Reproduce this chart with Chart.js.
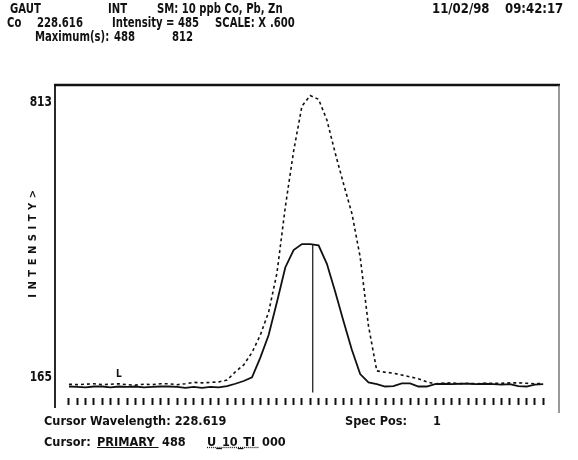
<!DOCTYPE html>
<html>
<head>
<meta charset="utf-8">
<script src="https://cdn.jsdelivr.net/npm/chart.js@4.4.1/dist/chart.umd.min.js"></script>
<style>
  html, body { margin: 0; padding: 0; background: #fff; }
  #wrap { position: relative; width: 578px; height: 460px; overflow: hidden; background: #fff; }
  #wrap canvas { position: absolute; left: 0; top: 0; }
  .t {
    position: absolute;
    font-family: 'DejaVu Sans Condensed', 'Liberation Sans Narrow', sans-serif;
    font-weight: bold;
    font-size: 14px;
    line-height: 14px;
    white-space: pre;
    color: #111;
    transform: scaleX(0.8);
    transform-origin: 0 0;
  }
  .w { transform: scaleX(0.93); }
  .b { font-size: 13px; transform: scaleX(0.97); }
  .u { text-decoration: underline; }
  .ud { text-decoration: underline dotted; }
</style>
</head>
<body>
<div id="wrap">
  <canvas id="spectrum" width="578" height="460"></canvas>

  <span class="t" style="left:10px; top:1px">GAUT</span>
  <span class="t" style="left:108px; top:1px">INT</span>
  <span class="t" style="left:157px; top:1px">SM: 10 ppb Co, Pb, Zn</span>
  <span class="t w" style="left:432px; top:1px">11/02/98</span>
  <span class="t w" style="left:505px; top:1px">09:42:17</span>

  <span class="t" style="left:7px; top:15px">Co</span>
  <span class="t" style="left:37px; top:15px">228.616</span>
  <span class="t" style="left:112px; top:15px">Intensity = 485</span>
  <span class="t" style="left:215px; top:15px">SCALE: X</span>
  <span class="t" style="left:270px; top:15px">.600</span>

  <span class="t" style="left:35px; top:29px">Maximum(s):</span>
  <span class="t" style="left:114px; top:29px">488</span>
  <span class="t" style="left:172px; top:29px">812</span>

  <span class="t b" style="left:44px; top:414px">Cursor Wavelength: 228.619</span>
  <span class="t b" style="left:345px; top:414px">Spec Pos:</span>
  <span class="t b" style="left:433px; top:414px">1</span>

  <span class="t b" style="left:44px; top:435px">Cursor:</span>
  <span class="t b u" style="left:97px; top:435px">PRIMARY </span>
  <span class="t b" style="left:162px; top:435px">488</span>
  <span class="t b ud" style="left:207px; top:435px">U_10_TI </span>
  <span class="t b" style="left:262px; top:435px">000</span>
</div>

<script>
// sample positions along the scan (one per tick mark)
const scanPoints = [
    0, 1, 2, 3, 4, 5, 6, 7, 8, 9,
    10, 11, 12, 13, 14, 15, 16, 17, 18, 19,
    20, 21, 22, 23, 24, 25, 26, 27, 28, 29,
    30, 31, 32, 33, 34, 35, 36, 37, 38, 39,
    40, 41, 42, 43, 44, 45, 46, 47, 48, 49,
    50, 51, 52, 53, 54, 55, 56, 57,
];

// solid trace (current scan)
const solidTrace = [
    178, 177, 176, 178, 178, 176, 178, 177, 178, 176,
    177, 178, 178, 177, 175, 177, 175, 177, 176, 179,
    184, 190, 198, 241, 290, 362, 437, 475, 488, 488,
    485, 445, 384, 320, 258, 205, 187, 183, 178, 179,
    185, 185, 178, 178, 183, 184, 183, 184, 184, 183,
    184, 183, 182, 183, 179, 178, 182, 183,
];

// dotted trace (reference scan)
const dottedTrace = [
    183, 182, 183, 184, 182, 183, 184, 182, 181, 183,
    182, 184, 184, 182, 184, 187, 186, 187, 188, 192,
    210, 225, 252, 290, 340, 425, 568, 690, 788, 811,
    803, 758, 686, 619, 555, 460, 310, 212, 209, 207,
    203, 199, 195, 188, 184, 185, 186, 184, 185, 184,
    185, 185, 185, 186, 186, 185, 184, 185,
];

const cursorPos = 29.3;
const cursorRange = [165, 488];

const yTickValues = [165, 813];
const yTickLabels = ['165', '813'];
const yLabelNudge = [-15, 8];

const ink = '#111';

const printout = {
    id: 'printout',
    afterDraw(chart) {
        const { ctx, chartArea: a, scales } = chart;
        ctx.save();
        ctx.strokeStyle = ink;

        // frame: heavy top, left and right sides, open bottom
        ctx.lineWidth = 2.5;
        ctx.beginPath();
        ctx.moveTo(a.left - 1, a.top);
        ctx.lineTo(a.right + 1, a.top);
        ctx.stroke();

        ctx.lineWidth = 1.8;
        ctx.beginPath();
        ctx.moveTo(a.left, a.top);
        ctx.lineTo(a.left, a.bottom + 10);
        ctx.stroke();

        ctx.strokeStyle = '#555';
        ctx.lineWidth = 1.2;
        ctx.beginPath();
        ctx.moveTo(a.right, a.top);
        ctx.lineTo(a.right, a.bottom + 15);
        ctx.stroke();

        // y labels
        ctx.fillStyle = ink;
        ctx.font = "bold 14px 'DejaVu Sans Condensed', sans-serif";
        ctx.textAlign = 'right';
        ctx.textBaseline = 'middle';
        yTickValues.forEach((v, i) => {
            const y = scales.y.getPixelForValue(v) + yLabelNudge[i];
            ctx.save();
            ctx.translate(a.left - 3, y);
            ctx.scale(0.85, 1);
            ctx.fillText(yTickLabels[i], 0, 0);
            ctx.restore();
        });

        // axis title, letter spaced, reading upward
        ctx.save();
        ctx.translate(33, (a.top + a.bottom) / 2);
        ctx.rotate(-Math.PI / 2);
        ctx.font = "bold 10px 'DejaVu Sans', sans-serif";
        ctx.letterSpacing = '4.5px';
        ctx.textAlign = 'center';
        ctx.fillText('INTENSITY>', 0, 0);
        ctx.restore();

        // left background marker
        ctx.font = "bold 10px 'DejaVu Sans Condensed', sans-serif";
        ctx.textAlign = 'center';
        ctx.fillText('L', scales.x.getPixelForValue(6), scales.y.getPixelForValue(205));

        ctx.restore();
    },
};

new Chart(document.getElementById('spectrum'), {
    type: 'line',
    data: {
        datasets: [
            {
                label: 'reference',
                data: scanPoints.map((x, i) => ({ x, y: dottedTrace[i] })),
                borderColor: ink,
                borderWidth: 1.6,
                borderDash: [3, 3],
                pointRadius: 0,
                tension: 0,
            },
            {
                label: 'scan',
                data: scanPoints.map((x, i) => ({ x, y: solidTrace[i] })),
                borderColor: ink,
                borderWidth: 1.8,
                pointRadius: 0,
                tension: 0,
            },
            {
                label: 'cursor',
                data: cursorRange.map((y) => ({ x: cursorPos, y })),
                borderColor: ink,
                borderWidth: 1.2,
                pointRadius: 0,
            },
        ],
    },
    options: {
        responsive: false,
        animation: false,
        devicePixelRatio: 1,
        layout: { padding: { left: 55, right: 19, top: 85, bottom: 55 } },
        scales: {
            x: {
                type: 'linear',
                min: -1.68,
                max: 58.9,
                afterBuildTicks: (scale) => {
                    scale.ticks = scanPoints.map((value) => ({ value }));
                },
                ticks: { display: false },
                grid: {
                    drawOnChartArea: false,
                    drawTicks: true,
                    tickLength: 7,
                    tickWidth: 2,
                    tickColor: ink,
                },
                border: { display: false },
            },
            y: {
                display: false,
                min: 153,
                max: 834,
            },
        },
        plugins: {
            legend: { display: false },
            tooltip: { enabled: false },
        },
    },
    plugins: [printout],
});
</script>
</body>
</html>
